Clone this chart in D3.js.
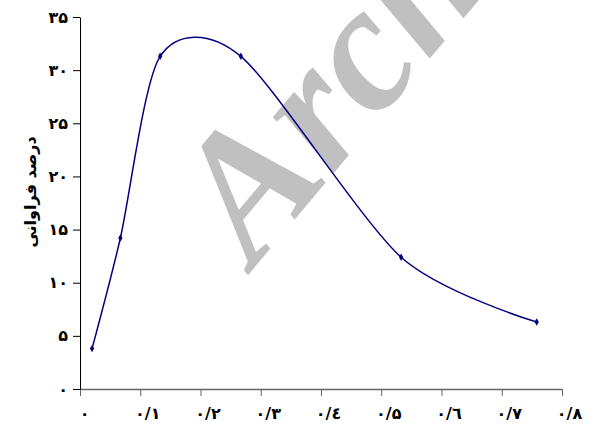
<!DOCTYPE html>
<html>
<head>
<meta charset="utf-8">
<script src="https://cdn.jsdelivr.net/npm/d3@7"></script>
<style>
  body { margin: 0; background: #fff; }
  svg { display: block; }
</style>
</head>
<body>
<div id="chart"></div>
<script>
// data
const xValues = [0.02, 0.067, 0.133, 0.267, 0.533, 0.758];
const yValues = [3.8, 14.2, 31.3, 31.3, 12.4, 6.3];
const xTicks = [0, 0.1, 0.2, 0.3, 0.4, 0.5, 0.6, 0.7, 0.8];
const xTickLabels = ["٠", "٠/١", "٠/٢", "٠/٣", "٠/٤", "٠/۵", "٠/٦", "٠/٧", "٠/٨"];
const yTicks = [0, 5, 10, 15, 20, 25, 30, 35];
const yTickLabels = ["٠", "۵", "١٠", "١۵", "٢٠", "٢۵", "٣٠", "٣۵"];
const yTitle = "درصد فراوانی";
const watermark = "Archive";

const width = 616, height = 425;
const margin = {top: 17, right: 54, bottom: 36, left: 80};

const svg = d3.select("#chart")
              .append("svg")
                .attr("width", width)
                .attr("height", height);

// watermark behind the chart
svg.append("text")
     .attr("transform", "translate(254,268) rotate(-50)")
     .attr("font-family", "Liberation Serif, serif")
     .attr("font-weight", "bold")
     .attr("font-style", "italic")
     .attr("font-size", 180)
     .attr("fill", "#c0c0c0")
     .text(watermark);

const x = d3.scaleLinear()
            .domain([0, 0.8])
            .range([margin.left, width - margin.right]);

const y = d3.scaleLinear()
            .domain([0, 35])
            .range([height - margin.bottom, margin.top]);

// X axis
const xAxis = svg.append("g")
   .attr("transform", `translate(0,${height - margin.bottom})`)
   .call(d3.axisBottom(x)
           .tickValues(xTicks)
           .tickSize(7)
           .tickSizeOuter(0)
           .tickFormat((d, i) => xTickLabels[i]));
xAxis.select(".domain").attr("stroke", "#666").attr("stroke-width", 1.5);
xAxis.selectAll(".tick line").attr("stroke", "#666");
xAxis.selectAll(".tick text")
     .attr("font-family", "DejaVu Sans, sans-serif")
     .attr("font-weight", "bold")
     .attr("font-size", 16)
     .attr("fill", "#000")
     .attr("y", 19)
     .attr("dx", (d, i) => i == 0 ? 4 : 7);

// Y axis
const yAxis = svg.append("g")
   .attr("transform", `translate(${margin.left},0)`)
   .call(d3.axisLeft(y)
           .tickValues(yTicks)
           .tickSize(7)
           .tickSizeOuter(0)
           .tickFormat((d, i) => yTickLabels[i]));
yAxis.select(".domain").attr("stroke", "#000");
yAxis.selectAll(".tick text")
     .attr("font-family", "DejaVu Sans, sans-serif")
     .attr("font-weight", "bold")
     .attr("font-size", 16)
     .attr("fill", "#000")
     .attr("x", -12);

// Y title
svg.append("text")
     .attr("transform", "translate(36,192) rotate(-90)")
     .attr("text-anchor", "middle")
     .attr("font-family", "DejaVu Sans, sans-serif")
     .attr("font-weight", "bold")
     .attr("font-size", 16)
     .text(yTitle);

// smoothed line
const points = xValues.map((v, i) => [v, yValues[i]]);
const line = d3.line()
               .x(d => x(d[0]))
               .y(d => y(d[1]))
               .curve(d3.curveCardinal.tension(0.2));

svg.append("path")
     .datum(points)
     .attr("fill", "none")
     .attr("stroke", "#000080")
     .attr("stroke-width", 1.5)
     .attr("d", line);

// diamond markers
svg.append("g")
   .selectAll("path")
   .data(points)
   .join("path")
     .attr("transform", d => `translate(${x(d[0])},${y(d[1])})`)
     .attr("d", d3.symbol(d3.symbolDiamond, 16))
     .attr("fill", "#000080");
</script>
</body>
</html>
